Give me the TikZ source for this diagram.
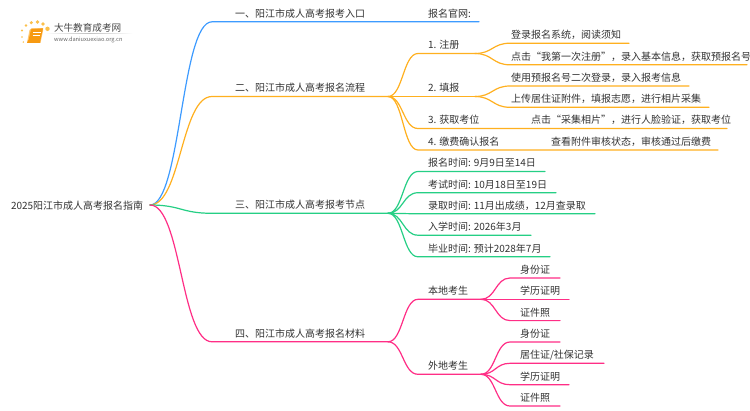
\documentclass[tikz,border=0pt]{standalone}
\usepackage{fontspec}
\setmainfont{Noto Sans CJK SC}
\usetikzlibrary{calc}
\definecolor{cblue}{HTML}{3D9BFF}
\definecolor{corange}{HTML}{FFB01F}
\definecolor{cgreen}{HTML}{25CF85}
\definecolor{cpink}{HTML}{FF2E86}
\definecolor{ctext}{HTML}{333333}
\definecolor{cdot}{HTML}{FBC04A}
\definecolor{cbook}{HTML}{F79A12}
\definecolor{cbookb}{HTML}{FFC873}
\tikzset{
  lbl/.style={anchor=base west,inner sep=0pt,outer sep=0pt,text=ctext,font=\fontsize{10}{12}\selectfont},
  lnk/.style={line width=1.2pt,line cap=round,line join=round},
}
% colour, name, parent end, line start x, y, line end x, text x, text
\newcommand{\mmbranch}[8]{%
  \coordinate (#2-s) at (#4,#5);
  \coordinate (#2-e) at (#6,#5);
  \node[lbl] (#2) at (#7,#5-4.6) {#8};
  \coordinate (#2-m) at ($(#3)!.5!(#2-s)$);
  \draw[lnk,#1] (#3) .. controls (#3 -| #2-m) and (#2-s -| #2-m) .. (#2-s) -- (#2-e);
}
\begin{document}
\begin{tikzpicture}[x=1pt,y=-1pt]
\useasboundingbox[fill=white] (0,0) rectangle (750,410);
% logo
\foreach \a/\b/\r in {23.3/42/.8,22/37/.9,22/30.5/1.1,26/25.5/1.3,31.3/22.7/1.7,37.5/22/1.9,43/24/1.9,47.5/28.8/2.2}
  \fill[cdot] (\a,\b) circle (\r);
\shade[left color=white,right color=white,middle color=black!25] (45,33) rectangle (133,33.6);
\fill[cbookb] (27,42.8) -- (29.5,30) -- (32,28) -- (43,28) -- (43,31) -- (40.5,42.8) -- cycle;
\fill[cbook] (28.5,40.5) -- (31,29.3) -- (43,28.3) -- (40.5,40) -- cycle;
\fill[cbook] (27,42.8) -- (28.5,40) -- (40.5,40) -- (40,42.8) -- cycle;
\draw[white,line width=.5pt] (33,32.5) -- (40.5,32.5) (32.5,35) -- (40,35);
\node[anchor=base west,inner sep=0pt,text=black!72,font=\fontsize{9.6}{11}\selectfont] (logoa) at (53.8,31) {大牛教育成考网};
\node[anchor=base west,inner sep=0pt,text=black!60,font=\fontsize{5.65}{7}\selectfont] (logob) at (54,41) {www.daniuxuexiao.org.cn};
% root
\node[lbl,anchor=base west] (root) at (11,209) {2025阳江市成人高考报名指南};
\coordinate (r) at (150,205);
% branch one
\mmbranch{cblue}{b1}{r}{212}{21.8}{479}{235}{一、阳江市成人高考报考入口}
\node[lbl] (b1a) at (428,17.3) {报名官网:};
% branch two
\mmbranch{corange}{b2}{r}{212}{96.5}{388}{235}{二、阳江市成人高考报名流程}
\mmbranch{corange}{c1}{b2-e}{418}{53.5}{475}{428}{1. 注册}
\mmbranch{corange}{d1}{c1-e}{510}{43.2}{629}{511}{登录报名系统，阅读须知}
\mmbranch{corange}{d2}{c1-e}{510}{64.8}{747}{511}{点击“我第一次注册”，录入基本信息，获取预报名号}
\mmbranch{corange}{c2}{b2-e}{418}{96.5}{475}{428}{2. 填报}
\mmbranch{corange}{d3}{c2-e}{510}{86}{689}{511}{使用预报名号二次登录，录入报考信息}
\mmbranch{corange}{d4}{c2-e}{510}{107.3}{709}{511}{上传居住证附件，填报志愿，进行相片采集}
\mmbranch{corange}{c3}{b2-e}{418}{128.5}{727}{428}{3. 获取考位}
\node[lbl] (c3a) at (531,123.9) {点击“采集相片”，进行人脸验证，获取考位};
\mmbranch{corange}{c4}{b2-e}{418}{150}{718}{428}{4. 缴费确认报名}
\node[lbl] (c4a) at (551,145.4) {查看附件审核状态，审核通过后缴费};
% branch three
\mmbranch{cgreen}{b3}{r}{212}{213.3}{388}{235}{三、阳江市成人高考报考节点}
\mmbranch{cgreen}{e1}{b3-e}{418}{171.5}{545}{428}{报名时间: 9月9日至14日}
\mmbranch{cgreen}{e2}{b3-e}{418}{192.7}{556}{428}{考试时间: 10月18日至19日}
\mmbranch{cgreen}{e3}{b3-e}{418}{213.8}{595}{428}{录取时间: 11月出成绩，12月查录取}
\mmbranch{cgreen}{e4}{b3-e}{418}{235.2}{531}{428}{入学时间: 2026年3月}
\mmbranch{cgreen}{e5}{b3-e}{418}{256.8}{550}{428}{毕业时间: 预计2028年7月}
% branch four
\mmbranch{cpink}{b4}{r}{212}{341.8}{388}{235}{四、阳江市成人高考报名材料}
\mmbranch{cpink}{f1}{b4-e}{418}{299.3}{481}{428}{本地考生}
\mmbranch{cpink}{g1}{f1-e}{510}{278}{560}{520}{身份证}
\mmbranch{cpink}{g2}{f1-e}{510}{299.3}{569}{520}{学历证明}
\mmbranch{cpink}{g3}{f1-e}{510}{320.6}{560}{520}{证件照}
\mmbranch{cpink}{f2}{b4-e}{418}{374.3}{481}{428}{外地考生}
\mmbranch{cpink}{g4}{f2-e}{510}{342}{560}{520}{身份证}
\mmbranch{cpink}{g5}{f2-e}{510}{363.3}{604}{520}{居住证/社保记录}
\mmbranch{cpink}{g6}{f2-e}{510}{384.7}{569}{520}{学历证明}
\mmbranch{cpink}{g7}{f2-e}{510}{406}{560}{520}{证件照}
\end{tikzpicture}
\end{document}
